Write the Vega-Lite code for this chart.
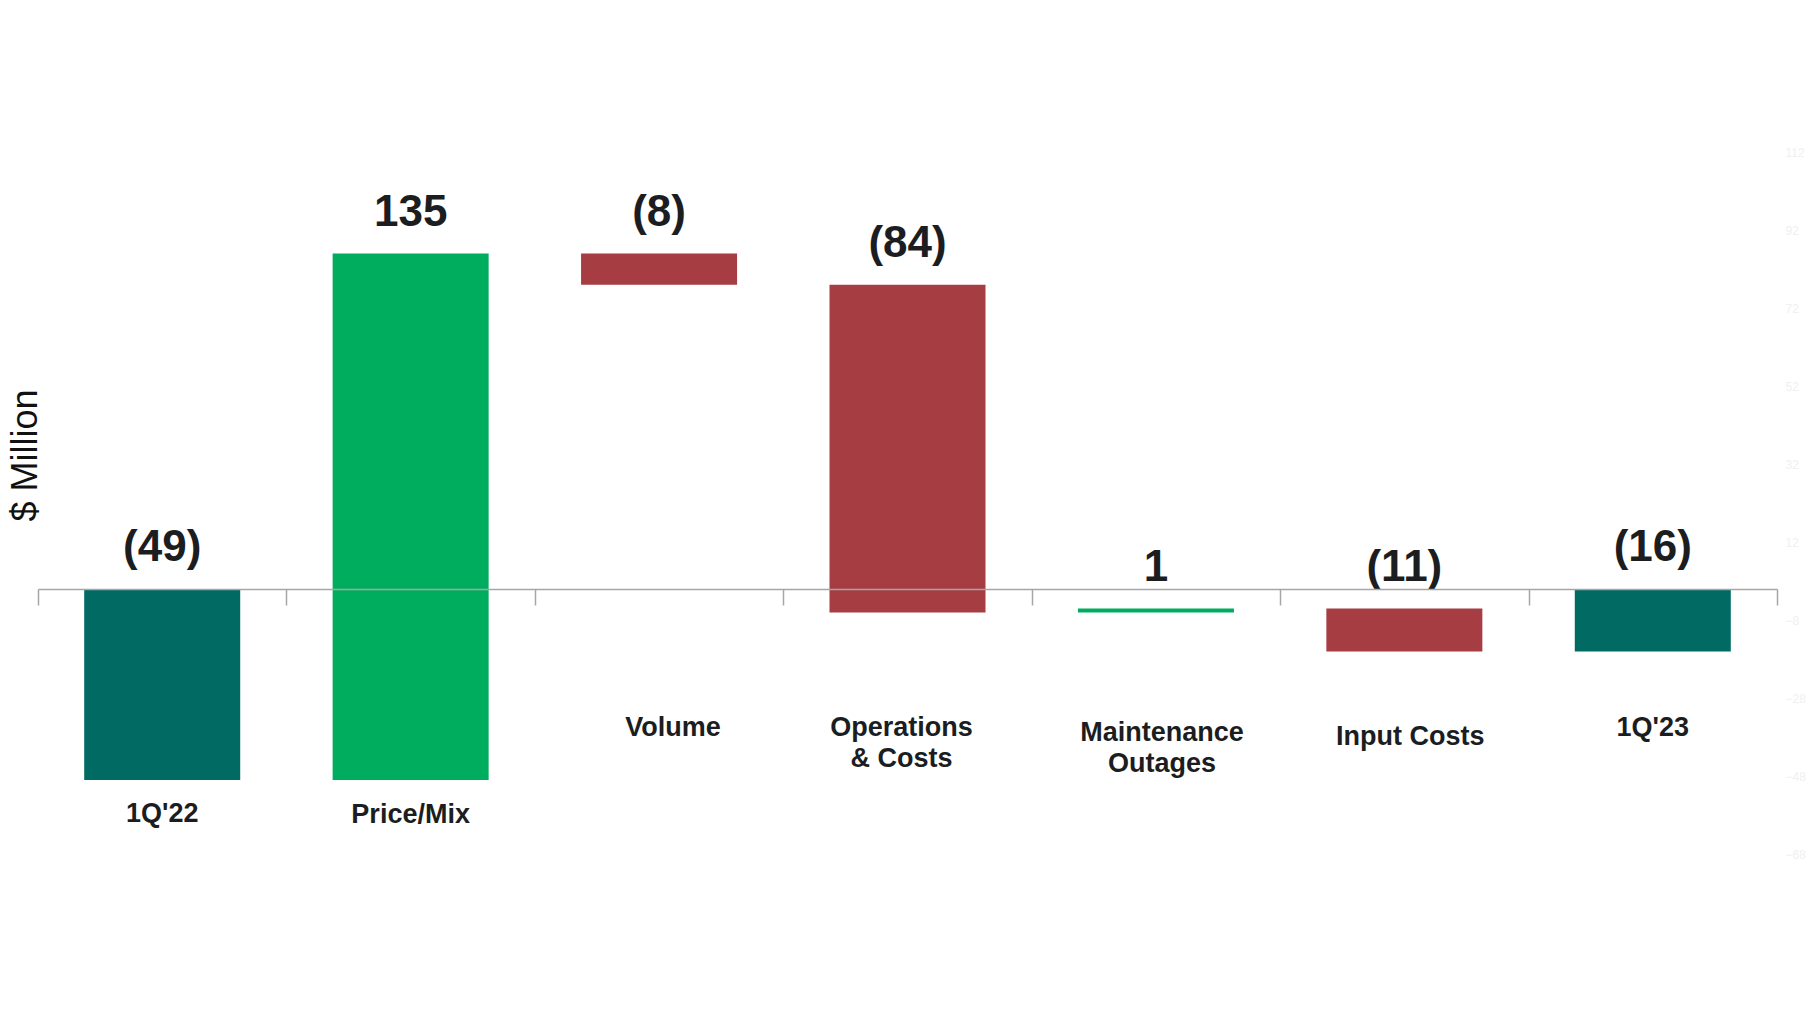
{
  "$schema": "https://vega.github.io/schema/vega-lite/v6.json",
  "width": 1739,
  "height": 975,
  "autosize": {"type": "none"},
  "padding": {"left": 38, "top": 43, "right": 34, "bottom": 1},
  "background": "white",
  "config": {"view": {"stroke": null}, "font": "Liberation Sans"},
  "data": {
    "values": [
      {"category": "1Q'22", "start": 0, "end": -49, "value": -49, "kind": "total"},
      {"category": "Price/Mix", "start": -49, "end": 86, "value": 135, "kind": "up"},
      {"category": "Volume", "start": 86, "end": 78, "value": -8, "kind": "down"},
      {"category": "Operations & Costs", "start": 78, "end": -6, "value": -84, "kind": "down"},
      {"category": "Maintenance Outages", "start": -6, "end": -5, "value": 1, "kind": "up"},
      {"category": "Input Costs", "start": -5, "end": -16, "value": -11, "kind": "down"},
      {"category": "1Q'23", "start": 0, "end": -16, "value": -16, "kind": "total"}
    ]
  },
  "transform": [
    {"calculate": "max(datum.start, datum.end)", "as": "top"},
    {"calculate": "datum.value < 0 ? '(' + abs(datum.value) + ')' : '' + datum.value", "as": "label"},
    {"calculate": "datum.category === 'Operations & Costs' ? ['Operations', '& Costs'] : datum.category === 'Maintenance Outages' ? ['Maintenance', 'Outages'] : datum.category", "as": "catLines"}
  ],
  "encoding": {
    "x": {
      "field": "category",
      "type": "nominal",
      "sort": null,
      "scale": {"paddingInner": 0, "paddingOuter": 0},
      "axis": {
        "title": null,
        "orient": "bottom",
        "offset": -429,
        "domainColor": "#a6a6a6",
        "domainWidth": 1.5,
        "tickColor": "#a6a6a6",
        "tickWidth": 1.5,
        "tickSize": 16,
        "tickBand": "extent",
        "labels": false,
        "zindex": 1
      }
    }
  },
  "layer": [
    {
      "mark": {"type": "bar", "width": {"band": 0.628}},
      "encoding": {
        "y": {
          "field": "start",
          "type": "quantitative",
          "scale": {"domain": [-110, 140], "nice": false, "zero": false},
          "axis": {
            "orient": "left",
            "labels": false,
            "domain": false,
            "ticks": false,
            "grid": false,
            "title": "$ Million",
            "titleFont": "Liberation Sans",
            "titleFontSize": 36,
            "titleFontWeight": "normal",
            "titleColor": "#111111",
            "titleAngle": 270,
            "titleAlign": "center",
            "titleBaseline": "middle",
            "titleX": -13,
            "titleY": 412
          }
        },
        "y2": {"field": "end"},
        "color": {
          "field": "kind",
          "type": "nominal",
          "scale": {"domain": ["total", "up", "down"], "range": ["#006A63", "#00AC5E", "#A53D42"]},
          "legend": null
        }
      }
    },
    {
      "mark": {"type": "text", "baseline": "alphabetic", "dy": -28, "fontSize": 44, "fontWeight": "bold", "color": "#1b1d20", "font": "Liberation Sans"},
      "encoding": {
        "y": {
          "field": "top",
          "type": "quantitative",
          "axis": {
            "orient": "right",
            "values": [112, 92, 72, 52, 32, 12, -8, -28, -48, -68],
            "domain": false,
            "ticks": false,
            "grid": false,
            "labelColor": "#f0f0f0",
            "labelFontSize": 12,
            "labelPadding": 8,
            "labelAlign": "left",
            "title": null
          }
        },
        "text": {"field": "label"}
      }
    },
    {
      "mark": {
        "type": "text",
        "baseline": "top",
        "align": "center",
        "fontSize": 27,
        "fontWeight": "bold",
        "lineHeight": 31,
        "color": "#1b1d20",
        "font": "Liberation Sans",
        "dx": {"expr": "datum.category === 'Volume' ? 14 : datum.category === 'Operations & Costs' ? -6 : datum.category === 'Maintenance Outages' ? 6 : datum.category === 'Input Costs' ? 6 : 0"},
        "dy": {"expr": "datum.category === \"1Q'22\" ? 212 : datum.category === 'Price/Mix' ? 213 : datum.category === 'Maintenance Outages' ? 131 : datum.category === 'Input Costs' ? 135 : 126"}
      },
      "encoding": {
        "y": {"datum": 0, "type": "quantitative", "axis": null},
        "text": {"field": "catLines"}
      }
    }
  ],
  "resolve": {"axis": {"y": "independent"}}
}
